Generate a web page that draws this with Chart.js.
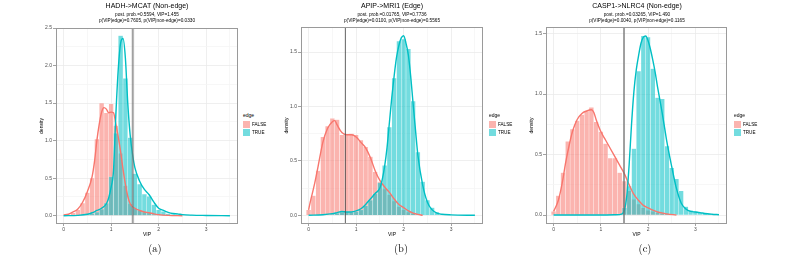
<!DOCTYPE html>
<html>
<head>
<meta charset="utf-8">
<script src="https://cdn.jsdelivr.net/npm/chart.js@4"></script>
<style>
  body { margin: 0; width: 806px; height: 259px; background: #fff; position: relative; overflow: hidden;
         font-family: "Liberation Sans", Arial, sans-serif; }
  canvas { position: absolute; top: 0; }
  .ttl { position: absolute; transform: translateX(-50%); white-space: nowrap; color: #000; line-height: 1; }
  .t1 { font-size: 7px; }
  .t2 { font-size: 4.7px; }
  .leg { position: absolute; font-size: 5px; color: #000; z-index: 2; line-height: 1; }
  .key { position: absolute; width: 7px; height: 7px; }
  .lab { position: absolute; font-size: 4.6px; white-space: nowrap; }
  .cap { position: absolute; transform: translateX(-50%); font-family: "Latin Modern Roman", "DejaVu Serif", "Liberation Serif", serif;
         font-size: 10.5px; color: #000; line-height: 1; }
</style>
</head>
<body>
<canvas id="chartA" width="240" height="245" style="left:0px"></canvas>
<canvas id="chartB" width="228" height="245" style="left:260px"></canvas>
<canvas id="chartC" width="228" height="245" style="left:505px"></canvas>

<div class="ttl t1" style="left:147px;top:2px">HADH-&gt;MCAT (Non-edge)</div>
<div class="ttl t2" style="left:147px;top:12.5px">post. prob.=0.5594, VIP=1.455</div>
<div class="ttl t2" style="left:147px;top:18.5px">p(VIP|edge)=0.7605, p(VIP|non-edge)=0.0330</div>

<div class="ttl t1" style="left:392px;top:2px">APIP-&gt;MRI1 (Edge)</div>
<div class="ttl t2" style="left:392px;top:12.5px">post. prob.=0.01765, VIP=0.7736</div>
<div class="ttl t2" style="left:392px;top:18.5px">p(VIP|edge)=0.0100, p(VIP|non-edge)=0.5565</div>

<div class="ttl t1" style="left:637px;top:2px">CASP1-&gt;NLRC4 (Non-edge)</div>
<div class="ttl t2" style="left:637px;top:12.5px">post. prob.=0.03265, VIP=1.490</div>
<div class="ttl t2" style="left:637px;top:18.5px">p(VIP|edge)=0.0040, p(VIP|non-edge)=0.1165</div>

<div class="leg" id="legA" style="left:243px;top:113px"></div>
<div class="leg" id="legB" style="left:489px;top:113px"></div>
<div class="leg" id="legC" style="left:734px;top:113px"></div>

<div class="cap" style="left:155px;top:243px">(a)</div>
<div class="cap" style="left:401px;top:243px">(b)</div>
<div class="cap" style="left:645px;top:243px">(c)</div>

<script>
// ---- data ----
const groups = ['FALSE', 'TRUE'];
const vipMajor = [0, 1, 2, 3];
const vipMinor = [0.5, 1.5, 2.5, 3.5];
const xRange = [-0.16, 3.67];

// panel (a) HADH->MCAT
const vipA = 1.455;
const yRangeA = [-0.11, 2.5];
const yMajorA = [0, 0.5, 1, 1.5, 2, 2.5];
const yMinorA = [0.25, 0.75, 1.25, 1.75, 2.25];
const binsA = [0, 0.1, 0.2, 0.3, 0.4, 0.5, 0.6, 0.7, 0.8, 0.9, 1.0, 1.1, 1.2, 1.3, 1.4, 1.5, 1.6, 1.7, 1.8, 1.9, 2.0, 2.1, 2.2, 2.3, 2.4, 2.5, 2.6, 2.7, 2.8];
const histFalseA = [0, 0.01, 0.04, 0.08, 0.17, 0.31, 0.5, 1.02, 1.5, 1.37, 1.49, 1.2, 0.83, 0.4, 0.16, 0.1, 0.07, 0.05, 0.04, 0.02, 0.01, 0.01, 0, 0, 0, 0, 0, 0, 0];
const histTrueA = [0, 0, 0, 0, 0.01, 0.02, 0.03, 0.05, 0.09, 0.17, 0.52, 1.1, 2.4, 1.83, 1.04, 0.56, 0.42, 0.29, 0.26, 0.15, 0.08, 0.06, 0.03, 0.02, 0.02, 0.01, 0.01, 0.005, 0.005];
const densXFalseA = [0, 0.1, 0.2, 0.3, 0.4, 0.5, 0.6, 0.65, 0.7, 0.75, 0.8, 0.85, 0.9, 0.95, 1.0, 1.05, 1.1, 1.15, 1.2, 1.25, 1.3, 1.35, 1.4, 1.5, 1.6, 1.7, 1.8, 1.9, 2.0, 2.2, 2.5];
const densFalseA = [0.01, 0.02, 0.05, 0.09, 0.18, 0.32, 0.52, 0.72, 1.0, 1.22, 1.38, 1.44, 1.42, 1.37, 1.38, 1.37, 1.22, 1.05, 0.85, 0.62, 0.42, 0.26, 0.16, 0.1, 0.07, 0.05, 0.04, 0.025, 0.015, 0.005, 0];
const densXTrueA = [0, 0.3, 0.5, 0.6, 0.7, 0.8, 0.9, 0.95, 1.0, 1.05, 1.1, 1.15, 1.2, 1.25, 1.3, 1.35, 1.4, 1.45, 1.5, 1.6, 1.7, 1.8, 1.9, 2.0, 2.1, 2.2, 2.3, 2.4, 2.5, 2.7, 3.0, 3.5];
const densTrueA = [0, 0.005, 0.02, 0.04, 0.07, 0.1, 0.16, 0.24, 0.38, 0.6, 1.35, 1.95, 2.3, 2.36, 2.1, 1.5, 1.08, 0.82, 0.64, 0.46, 0.35, 0.28, 0.18, 0.1, 0.07, 0.045, 0.03, 0.025, 0.015, 0.008, 0.004, 0];

// panel (b) APIP->MRI1
const vipB = 0.7736;
const yRangeB = [-0.08, 1.73];
const yMajorB = [0, 0.5, 1, 1.5];
const yMinorB = [0.25, 0.75, 1.25];
const binsB = [0, 0.1, 0.2, 0.3, 0.4, 0.5, 0.6, 0.7, 0.8, 0.9, 1.0, 1.1, 1.2, 1.3, 1.4, 1.5, 1.6, 1.7, 1.8, 1.9, 2.0, 2.1, 2.2, 2.3, 2.4, 2.5, 2.6, 2.7, 2.8];
const histFalseB = [0.05, 0.18, 0.41, 0.72, 0.82, 0.89, 0.88, 0.74, 0.74, 0.75, 0.74, 0.69, 0.63, 0.54, 0.4, 0.31, 0.24, 0.19, 0.13, 0.08, 0.05, 0.03, 0.015, 0.005, 0, 0, 0, 0, 0];
const histTrueB = [0, 0, 0, 0, 0, 0.01, 0.02, 0.03, 0.035, 0.03, 0.035, 0.05, 0.09, 0.14, 0.2, 0.3, 0.46, 0.81, 1.26, 1.6, 1.62, 1.53, 1.05, 0.58, 0.31, 0.14, 0.07, 0.03, 0.01];
const densXFalseB = [0, 0.05, 0.1, 0.15, 0.2, 0.3, 0.4, 0.5, 0.55, 0.6, 0.7, 0.8, 0.9, 1.0, 1.1, 1.2, 1.3, 1.4, 1.5, 1.6, 1.7, 1.8, 1.9, 2.0, 2.1, 2.2, 2.3, 2.4];
const densFalseB = [0.05, 0.15, 0.24, 0.34, 0.45, 0.67, 0.8, 0.86, 0.87, 0.83, 0.76, 0.74, 0.74, 0.72, 0.67, 0.62, 0.53, 0.41, 0.32, 0.26, 0.21, 0.15, 0.1, 0.07, 0.04, 0.02, 0.008, 0];
const densXTrueB = [0, 0.3, 0.5, 0.6, 0.7, 0.8, 0.9, 1.0, 1.1, 1.2, 1.3, 1.4, 1.5, 1.55, 1.6, 1.65, 1.7, 1.75, 1.8, 1.85, 1.9, 1.95, 2.0, 2.05, 2.1, 2.15, 2.2, 2.25, 2.3, 2.4, 2.5, 2.6, 2.7, 2.8, 3.0, 3.5];
const densTrueB = [0, 0.005, 0.015, 0.025, 0.035, 0.03, 0.03, 0.04, 0.06, 0.1, 0.15, 0.2, 0.25, 0.33, 0.45, 0.62, 0.85, 1.08, 1.28, 1.45, 1.56, 1.63, 1.65, 1.58, 1.47, 1.27, 1.02, 0.78, 0.55, 0.28, 0.12, 0.05, 0.02, 0.01, 0.004, 0];

// panel (c) CASP1->NLRC4
const vipC = 1.490;
const yRangeC = [-0.074, 1.554];
const yMajorC = [0, 0.5, 1, 1.5];
const yMinorC = [0.25, 0.75, 1.25];
const binsC = [0, 0.1, 0.2, 0.3, 0.4, 0.5, 0.6, 0.7, 0.8, 0.9, 1.0, 1.1, 1.2, 1.3, 1.4, 1.5, 1.6, 1.7, 1.8, 1.9, 2.0, 2.1, 2.2, 2.3, 2.4, 2.5, 2.6, 2.7, 2.8, 2.9, 3.0, 3.1, 3.2, 3.3, 3.4];
const histFalseC = [0.03, 0.16, 0.35, 0.61, 0.71, 0.78, 0.83, 0.86, 0.89, 0.77, 0.69, 0.59, 0.47, 0.47, 0.35, 0.28, 0.2, 0.13, 0.09, 0.06, 0.04, 0.03, 0.02, 0.01, 0.01, 0, 0, 0, 0, 0, 0, 0, 0, 0, 0];
const histTrueC = [0, 0, 0, 0, 0, 0, 0, 0, 0, 0, 0, 0, 0, 0, 0.01, 0.06, 0.24, 0.55, 1.19, 1.48, 1.47, 1.21, 0.97, 0.96, 0.57, 0.39, 0.3, 0.2, 0.07, 0.04, 0.03, 0.02, 0.01, 0.01, 0.005];
const densXFalseC = [0, 0.05, 0.1, 0.15, 0.2, 0.25, 0.3, 0.4, 0.5, 0.6, 0.7, 0.8, 0.85, 0.9, 1.0, 1.1, 1.2, 1.3, 1.4, 1.5, 1.6, 1.7, 1.8, 1.9, 2.0, 2.1, 2.2, 2.4, 2.6];
const densFalseC = [0.03, 0.07, 0.12, 0.2, 0.3, 0.42, 0.52, 0.69, 0.79, 0.84, 0.86, 0.87, 0.85, 0.79, 0.69, 0.62, 0.55, 0.48, 0.41, 0.34, 0.25, 0.17, 0.12, 0.08, 0.06, 0.04, 0.025, 0.01, 0];
const densXTrueC = [0, 1.0, 1.3, 1.45, 1.5, 1.55, 1.6, 1.65, 1.7, 1.75, 1.8, 1.85, 1.9, 1.95, 2.0, 2.05, 2.1, 2.15, 2.2, 2.25, 2.3, 2.35, 2.4, 2.5, 2.6, 2.7, 2.8, 2.9, 3.0, 3.1, 3.2, 3.35, 3.5];
const densTrueC = [0, 0, 0.002, 0.01, 0.04, 0.16, 0.42, 0.75, 1.02, 1.2, 1.32, 1.42, 1.47, 1.48, 1.44, 1.37, 1.28, 1.18, 1.06, 0.95, 0.84, 0.72, 0.6, 0.4, 0.22, 0.1, 0.05, 0.03, 0.025, 0.02, 0.013, 0.007, 0.003];

// ---- styling ----
const lineColors = ['#F8766D', '#00BFC4'];
const fillColors = ['rgba(248,118,109,0.55)', 'rgba(0,191,196,0.55)'];
const fontFam = '"Liberation Sans", Arial, sans-serif';

const panelBorder = {
    id: 'panelBorder',
    afterDraw(chart) {
        var a = chart.chartArea;
        var ctx = chart.ctx;
        ctx.save();
        ctx.strokeStyle = '#9a9a9a';
        ctx.lineWidth = 1;
        ctx.strokeRect(Math.round(a.left) + 0.5, Math.round(a.top) + 0.5, Math.round(a.width) - 1, Math.round(a.height) - 1);
        ctx.restore();
    }
};

toPoints = (xs, ys) => xs.map((x, i) => ({ x: x, y: ys[i] }));

makeLegend = (id) => {
    var el = document.getElementById(id);
    var html = '<div style="position:absolute;left:0;top:0;white-space:nowrap">edge</div>';
    for (var i = 0; i < groups.length; i++) {
        var top = 8 + i * 8;
        html += '<div class="key" style="left:0;top:' + top + 'px;background:' + fillColors[i] + '"></div>';
        html += '<div class="lab" style="left:9px;top:' + (top + 1.5) + 'px">' + groups[i] + '</div>';
    }
    el.innerHTML = html;
};

makeLegend('legA');
makeLegend('legB');
makeLegend('legC');

// tick value from a scriptable context (may be missing for non-tick lines)
tickVal = c => (c && c.tick) ? c.tick.value : null;

makePanel = (canvasId, p) => {
    var ctx = document.getElementById(canvasId).getContext('2d');
    var isMajorX = v => vipMajor.includes(v);
    var isMajorY = v => p.yMajor.includes(v);
    return new Chart(ctx, {
        type: 'bar',
        data: {
            datasets: [
                {
                    type: 'line', label: 'VIP', order: 0,
                    data: [{ x: p.vip, y: p.yRange[0] }, { x: p.vip, y: p.yRange[1] }],
                    borderColor: p.vlineColor, borderWidth: p.vlineWidth, pointRadius: 0
                },
                {
                    type: 'line', label: 'TRUE density', order: 1,
                    data: toPoints(p.densXTrue, p.densTrue),
                    borderColor: lineColors[1], borderWidth: 1.4, pointRadius: 0,
                    cubicInterpolationMode: 'monotone'
                },
                {
                    type: 'line', label: 'FALSE density', order: 2,
                    data: toPoints(p.densXFalse, p.densFalse),
                    borderColor: lineColors[0], borderWidth: 1.4, pointRadius: 0,
                    cubicInterpolationMode: 'monotone'
                },
                {
                    label: 'TRUE', order: 3, grouped: false,
                    data: toPoints(p.bins, p.histTrue),
                    backgroundColor: fillColors[1], borderColor: 'rgba(255,255,255,0.35)', borderWidth: 0.5,
                    barPercentage: 1, categoryPercentage: 1
                },
                {
                    label: 'FALSE', order: 4, grouped: false,
                    data: toPoints(p.bins, p.histFalse),
                    backgroundColor: fillColors[0], borderColor: 'rgba(255,255,255,0.35)', borderWidth: 0.5,
                    barPercentage: 1, categoryPercentage: 1
                }
            ]
        },
        options: {
            responsive: false,
            animation: false,
            devicePixelRatio: 1,
            layout: { padding: { left: p.padLeft, right: p.padRight, top: p.padTop, bottom: 0 } },
            plugins: { legend: { display: false }, tooltip: { enabled: false } },
            scales: {
                x: {
                    type: 'linear', min: xRange[0], max: xRange[1], offset: false,
                    afterFit: s => { s.height = 21; },
                    afterBuildTicks: s => { s.ticks = vipMajor.concat(vipMinor).map(v => ({ value: v })); },
                    border: { display: false },
                    grid: {
                        offset: false,
                        color: c => isMajorX(tickVal(c)) ? '#ebebeb' : '#f5f5f5',
                        tickColor: c => isMajorX(tickVal(c)) ? '#8a8a8a' : 'rgba(0,0,0,0)',
                        tickLength: 2, lineWidth: 0.8
                    },
                    ticks: {
                        autoSkip: false, maxRotation: 0, padding: 1, color: '#4d4d4d',
                        font: { family: fontFam, size: 5 },
                        callback: v => isMajorX(v) ? String(v) : ''
                    },
                    title: { display: true, text: 'VIP', color: '#000', font: { family: fontFam, size: 5 }, padding: { top: 0, bottom: 7 } }
                },
                y: {
                    type: 'linear', min: p.yRange[0], max: p.yRange[1],
                    afterFit: s => { s.width = 17; },
                    afterBuildTicks: s => { s.ticks = p.yMajor.concat(p.yMinor).map(v => ({ value: v })); },
                    border: { display: false },
                    grid: {
                        color: c => isMajorY(tickVal(c)) ? '#ebebeb' : '#f5f5f5',
                        tickColor: c => isMajorY(tickVal(c)) ? '#8a8a8a' : 'rgba(0,0,0,0)',
                        tickLength: 3, lineWidth: 0.8
                    },
                    ticks: {
                        autoSkip: false, padding: 1, color: '#4d4d4d',
                        font: { family: fontFam, size: 5 },
                        callback: v => isMajorY(v) ? v.toFixed(1) : ''
                    },
                    title: { display: true, text: 'density', color: '#000', font: { family: fontFam, size: 5 }, padding: { top: 0, bottom: 0 } }
                }
            }
        },
        plugins: [panelBorder]
    });
};

makePanel('chartA', {
    vip: vipA, yRange: yRangeA, yMajor: yMajorA, yMinor: yMinorA, bins: binsA,
    histFalse: histFalseA, histTrue: histTrueA,
    densXFalse: densXFalseA, densFalse: densFalseA, densXTrue: densXTrueA, densTrue: densTrueA,
    vlineColor: 'rgba(110,110,110,0.65)', vlineWidth: 2,
    padLeft: 39, padRight: 2, padTop: 28
});
makePanel('chartB', {
    vip: vipB, yRange: yRangeB, yMajor: yMajorB, yMinor: yMinorB, bins: binsB,
    histFalse: histFalseB, histTrue: histTrueB,
    densXFalse: densXFalseB, densFalse: densFalseB, densXTrue: densXTrueB, densTrue: densTrueB,
    vlineColor: 'rgba(70,70,70,0.85)', vlineWidth: 1,
    padLeft: 24, padRight: 5, padTop: 27
});
makePanel('chartC', {
    vip: vipC, yRange: yRangeC, yMajor: yMajorC, yMinor: yMinorC, bins: binsC,
    histFalse: histFalseC, histTrue: histTrueC,
    densXFalse: densXFalseC, densFalse: densFalseC, densXTrue: densXTrueC, densTrue: densTrueC,
    vlineColor: 'rgba(110,110,110,0.65)', vlineWidth: 2,
    padLeft: 24, padRight: 6, padTop: 27
});
</script>
</body>
</html>
